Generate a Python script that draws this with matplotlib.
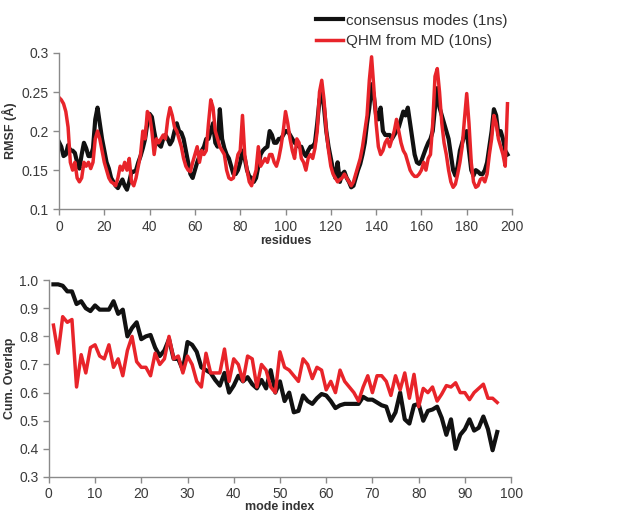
import numpy as np
import matplotlib.pyplot as plt

plt.rcParams['font.family'] = ['Liberation Sans', 'DejaVu Sans']

# RMSF per residue (0..198)
consensus_rmsf = [
    0.186, 0.18, 0.168, 0.17, 0.182, 0.175, 0.175, 0.172, 0.16, 0.152,
    0.17, 0.185, 0.178, 0.168, 0.168, 0.178, 0.215, 0.23, 0.21, 0.19,
    0.175, 0.16, 0.152, 0.14, 0.135, 0.13, 0.127, 0.133, 0.138, 0.13,
    0.125, 0.135, 0.148, 0.148, 0.15, 0.16, 0.168, 0.178, 0.19, 0.21,
    0.222, 0.218, 0.2, 0.185, 0.183, 0.18, 0.19, 0.195, 0.19, 0.183,
    0.188, 0.2, 0.21, 0.2, 0.198, 0.19, 0.175, 0.16, 0.145, 0.14,
    0.15, 0.16, 0.168, 0.175, 0.18, 0.19, 0.19, 0.2, 0.21, 0.185,
    0.18, 0.228, 0.19, 0.178, 0.17, 0.165, 0.155, 0.145, 0.145, 0.15,
    0.16, 0.175, 0.165, 0.15, 0.142, 0.14, 0.135, 0.14, 0.155, 0.17,
    0.175, 0.178, 0.18, 0.2, 0.195, 0.185, 0.185, 0.19, 0.19, 0.195,
    0.2, 0.2, 0.195, 0.19, 0.185, 0.183, 0.18, 0.18, 0.172, 0.168,
    0.175, 0.18, 0.18, 0.185, 0.21, 0.24, 0.25, 0.23, 0.2, 0.18,
    0.165, 0.15, 0.14, 0.16, 0.135, 0.145, 0.148, 0.14, 0.135, 0.128,
    0.13, 0.14, 0.15, 0.158, 0.17, 0.185, 0.21, 0.23, 0.26, 0.245,
    0.22, 0.215, 0.23, 0.2, 0.195, 0.195, 0.195, 0.19, 0.195, 0.2,
    0.205, 0.215, 0.225, 0.22, 0.23, 0.21, 0.19, 0.17, 0.16, 0.158,
    0.162, 0.17, 0.178, 0.185, 0.19, 0.2, 0.23, 0.255, 0.23, 0.22,
    0.21, 0.2, 0.19, 0.17, 0.15, 0.143, 0.155, 0.175, 0.185, 0.195,
    0.2, 0.175, 0.15, 0.143, 0.15, 0.148, 0.145, 0.145, 0.15, 0.16,
    0.18, 0.2, 0.228, 0.22, 0.195, 0.2, 0.19, 0.175, 0.17,
]
qhm_rmsf = [
    0.243, 0.24, 0.235, 0.225, 0.205, 0.16, 0.15, 0.16, 0.14, 0.135,
    0.14, 0.16, 0.155, 0.16, 0.152, 0.16, 0.19, 0.2, 0.19, 0.175,
    0.16, 0.15, 0.14, 0.135, 0.133, 0.13, 0.14, 0.155, 0.15, 0.16,
    0.15, 0.165, 0.135, 0.13, 0.14, 0.155, 0.17, 0.2, 0.19, 0.225,
    0.22, 0.2, 0.17, 0.19, 0.185, 0.19, 0.195, 0.19, 0.215, 0.23,
    0.22, 0.205, 0.2, 0.19, 0.18, 0.165, 0.155, 0.15, 0.148, 0.16,
    0.17, 0.18, 0.16, 0.175, 0.17, 0.175, 0.21, 0.24, 0.23, 0.2,
    0.19, 0.18, 0.175, 0.17, 0.15, 0.14, 0.138, 0.14, 0.155, 0.17,
    0.175, 0.22, 0.17, 0.15, 0.135, 0.13, 0.14, 0.15, 0.18, 0.155,
    0.16, 0.165, 0.16, 0.17, 0.17, 0.16, 0.155, 0.165, 0.18, 0.2,
    0.225, 0.21, 0.19, 0.175, 0.165, 0.19, 0.185, 0.165, 0.16, 0.15,
    0.165, 0.17, 0.165, 0.178, 0.2, 0.25, 0.265, 0.24, 0.2, 0.175,
    0.155, 0.145, 0.14, 0.135, 0.138, 0.14, 0.145, 0.14, 0.135, 0.13,
    0.135, 0.145, 0.155, 0.165, 0.18, 0.2, 0.22, 0.265, 0.295, 0.255,
    0.21, 0.18, 0.17, 0.175, 0.185, 0.19, 0.18, 0.19, 0.2, 0.215,
    0.2, 0.185, 0.175, 0.17, 0.16, 0.15, 0.145, 0.142, 0.142, 0.145,
    0.15, 0.16, 0.15, 0.165, 0.17, 0.21, 0.27, 0.28, 0.25, 0.21,
    0.185, 0.17, 0.15, 0.135, 0.128, 0.132, 0.145, 0.16, 0.18, 0.215,
    0.248, 0.21, 0.16, 0.135, 0.128, 0.13, 0.138, 0.14, 0.135, 0.145,
    0.17, 0.19, 0.22, 0.21, 0.19, 0.18, 0.17, 0.155, 0.235,
]

# cumulative overlap per mode index (1..97)
consensus_overlap = [
    0.985, 0.985, 0.98, 0.96, 0.96, 0.915, 0.925, 0.9, 0.89, 0.91,
    0.895, 0.895, 0.895, 0.925, 0.88, 0.895, 0.8, 0.83, 0.85, 0.79,
    0.8, 0.805, 0.76, 0.73, 0.75, 0.79, 0.72, 0.72, 0.68, 0.78,
    0.77, 0.745, 0.69, 0.68, 0.67, 0.645, 0.625, 0.67, 0.6, 0.625,
    0.66, 0.64, 0.655, 0.63, 0.615, 0.645, 0.615, 0.68, 0.6, 0.64,
    0.57, 0.6, 0.53, 0.535, 0.59, 0.57, 0.56, 0.58, 0.595, 0.59,
    0.57, 0.545, 0.555, 0.56, 0.56, 0.56, 0.56, 0.585, 0.575, 0.575,
    0.565, 0.555, 0.55, 0.5, 0.53, 0.6, 0.505, 0.49, 0.555, 0.56,
    0.5, 0.535, 0.54, 0.55, 0.51, 0.45, 0.505, 0.4, 0.45, 0.47,
    0.505, 0.465, 0.475, 0.515, 0.47, 0.395, 0.46,
]
qhm_overlap = [
    0.84, 0.74, 0.87, 0.85, 0.86, 0.62, 0.735, 0.67, 0.76, 0.77,
    0.73, 0.72, 0.77, 0.69, 0.72, 0.66, 0.75, 0.8, 0.71, 0.69,
    0.69, 0.66, 0.74, 0.7, 0.72, 0.8, 0.72, 0.73, 0.67, 0.73,
    0.7, 0.64, 0.62, 0.74, 0.67, 0.67, 0.67, 0.755, 0.64, 0.72,
    0.7, 0.64, 0.73, 0.72, 0.62, 0.7, 0.68, 0.62, 0.6, 0.745,
    0.69, 0.68, 0.66, 0.64, 0.72, 0.7, 0.65, 0.69, 0.68, 0.61,
    0.64, 0.6, 0.68, 0.64, 0.62, 0.6, 0.57, 0.62, 0.66, 0.6,
    0.66, 0.66, 0.64, 0.59, 0.66, 0.61, 0.67, 0.58, 0.665, 0.55,
    0.615, 0.6, 0.62, 0.57, 0.595, 0.625, 0.62, 0.635, 0.6, 0.6,
    0.575, 0.6, 0.615, 0.63, 0.58, 0.58, 0.565,
]

residues = np.arange(len(consensus_rmsf))
modes = np.arange(1, len(consensus_overlap) + 1)

black = '#111111'
red = '#e8242a'
gray = '#8a8a8a'

fig = plt.figure(figsize=(6.18, 5.14), dpi=100)
ax1 = fig.add_axes([0.0955, 0.593, 0.733, 0.304])
ax2 = fig.add_axes([0.079, 0.072, 0.748, 0.383])


def style(ax):
    for s in ['top', 'right']:
        ax.spines[s].set_visible(False)
    for s in ['left', 'bottom']:
        ax.spines[s].set_color(gray)
        ax.spines[s].set_linewidth(1.0)
    ax.tick_params(direction='out', length=4, width=1, color=gray,
                   labelsize=10, labelcolor='#3a3a3a')


l1, = ax1.plot(residues, consensus_rmsf, color=black, lw=3.0,
               label='consensus modes (1ns)', solid_joinstyle='round')
l2, = ax1.plot(residues, qhm_rmsf, color=red, lw=2.5,
               label='QHM from MD (10ns)', solid_joinstyle='round')
ax1.set_xlim(0, 200)
ax1.set_ylim(0.1, 0.3)
ax1.set_xticks(np.arange(0, 201, 20))
ax1.set_yticks([0.1, 0.15, 0.2, 0.25, 0.3])
ax1.set_yticklabels(['0.1', '0.15', '0.2', '0.25', '0.3'])
ax1.set_xlabel('residues', fontsize=9, fontweight='bold', color='#333333', labelpad=1)
ax1.set_ylabel('RMSF (Å)', fontsize=9, fontweight='bold', color='#333333', labelpad=3)
style(ax1)

fig.legend(handles=[l1, l2], loc='upper right', bbox_to_anchor=(0.843, 1.0),
           frameon=False, fontsize=11, handlelength=1.8, handletextpad=0.15,
           labelspacing=0.4, labelcolor='#333333')

ax2.plot(modes, consensus_overlap, color=black, lw=3.0, solid_joinstyle='round')
ax2.plot(modes, qhm_overlap, color=red, lw=2.5, solid_joinstyle='round')
ax2.set_xlim(0, 100)
ax2.set_ylim(0.3, 1.0)
ax2.set_xticks(np.arange(0, 101, 10))
ax2.set_yticks(np.arange(0.3, 1.01, 0.1))
ax2.set_yticklabels(['%.1f' % v for v in np.arange(0.3, 1.01, 0.1)])
ax2.set_xlabel('mode index', fontsize=9, fontweight='bold', color='#333333', labelpad=0)
ax2.set_ylabel('Cum. Overlap', fontsize=9, fontweight='bold', color='#333333', labelpad=2)
style(ax2)

fig.savefig('out.png', dpi=100)
